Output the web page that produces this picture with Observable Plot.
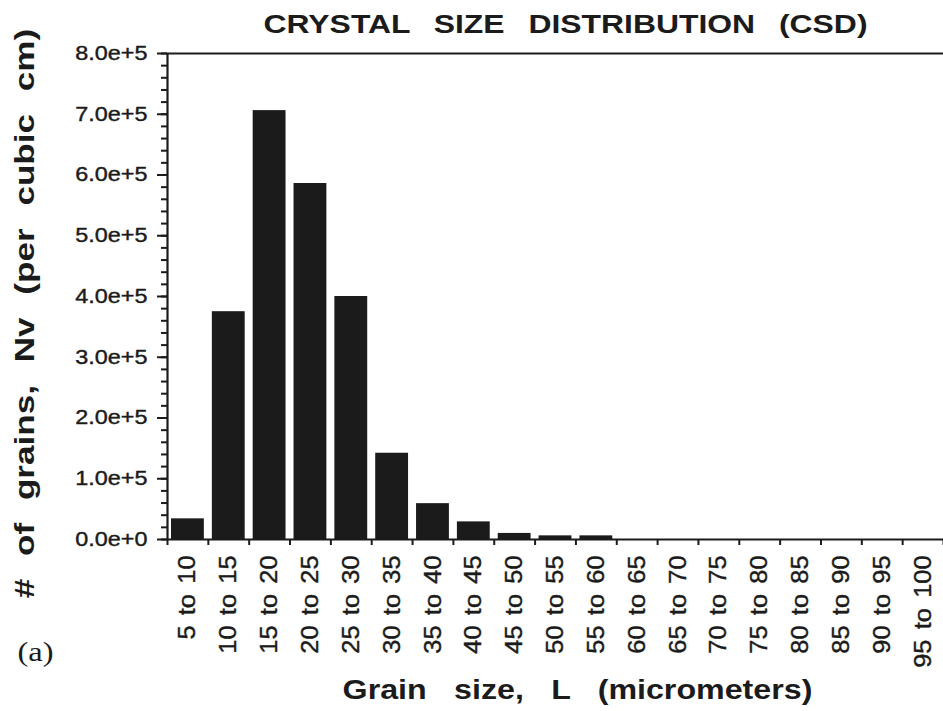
<!DOCTYPE html>
<html>
<head>
<meta charset="utf-8">
<script src="https://cdn.jsdelivr.net/npm/d3@7"></script>
<script src="https://cdn.jsdelivr.net/npm/@observablehq/plot@0.6"></script>
<style>
  html, body { margin: 0; padding: 0; background: #fff; }
  #chart svg { display: block; overflow: visible; }
</style>
</head>
<body>
<div id="chart"></div>
<script>
// Size classes (micrometers) and number of grains per cubic cm in each class
const binLabels = ["5 to 10", "10 to 15", "15 to 20", "20 to 25", "25 to 30", "30 to 35",
  "35 to 40", "40 to 45", "45 to 50", "50 to 55", "55 to 60", "60 to 65", "65 to 70",
  "70 to 75", "75 to 80", "80 to 85", "85 to 90", "90 to 95", "95 to 100"];
const binStart = [5, 10, 15, 20, 25, 30, 35, 40, 45, 50, 55, 60, 65, 70, 75, 80, 85, 90, 95];
const binEnd = [10, 15, 20, 25, 30, 35, 40, 45, 50, 55, 60, 65, 70, 75, 80, 85, 90, 95, 100];
const grainCounts = [3.4e4, 3.75e5, 7.06e5, 5.86e5, 4.0e5, 1.42e5, 5.9e4, 2.9e4, 1.0e4,
  6e3, 6e3, 0, 0, 0, 0, 0, 0, 0, 0];

const yMajorTicks = [0, 1e5, 2e5, 3e5, 4e5, 5e5, 6e5, 7e5, 8e5];
const yMinorTicks = d3.range(0, 8e5 + 1, 2e4);

const titleText = "CRYSTAL SIZE DISTRIBUTION (CSD)";
const yTitle = "# of grains, Nv (per cubic cm)";
const xTitle = "Grain size, L (micrometers)";
const panelTag = "(a)";

const rows = binLabels.map((label, i) => ({
  label, lo: binStart[i], hi: binEnd[i], value: grainCounts[i], mid: (binStart[i] + binEnd[i]) / 2
}));
const labelAt = new Map(rows.map(d => [d.mid, d.label]));
const yFormat = d3.format(".1e");

const ink = "#1b1b1b";

const chart = Plot.plot({
  width: 943,
  height: 711,
  marginLeft: 167,
  marginRight: 0,
  marginTop: 53,
  marginBottom: 172,
  style: { fontFamily: "'Liberation Sans', Arial, Helvetica, sans-serif", color: ink, background: "#fff" },
  x: { domain: [5, 100], label: null },
  y: { domain: [0, 8e5], label: null },
  marks: [
    Plot.rectY(rows, { x1: "lo", x2: "hi", y: "value", insetLeft: 4, insetRight: 4, fill: ink }),
    // frame: left axis line, top and bottom lines
    Plot.ruleY([0, 8e5], { stroke: ink, strokeWidth: 2.2 }),
    Plot.ruleX([5], { stroke: ink, strokeWidth: 2.2 }),
    // y axis: minor and major ticks
    Plot.axisY({ ticks: yMinorTicks, tickSize: 6, strokeWidth: 2, tickFormat: () => "", label: null }),
    Plot.axisY({ ticks: yMajorTicks, tickSize: 10, tickPadding: 10, strokeWidth: 2,
      tickFormat: yFormat, fontSize: 19.5, label: null }),
    // x axis: ticks on class boundaries, rotated class labels at class centres
    Plot.axisX({ ticks: [...binStart, 100], tickSize: 6, strokeWidth: 2, tickFormat: () => "", label: null }),
    Plot.axisX({ ticks: rows.map(d => d.mid), tickSize: 0, tickPadding: 16, tickRotate: -90,
      tickFormat: d => labelAt.get(d), fontSize: 23.5, label: null }),
    // titles
    Plot.text([titleText], { text: d => d, frameAnchor: "top", textAnchor: "middle", dx: 10, dy: -39,
      fontSize: 25.5, fontWeight: "bold", fill: ink }),
    Plot.text([yTitle], { text: d => d, frameAnchor: "left", textAnchor: "middle", dx: -142, dy: 17, rotate: -90,
      fontSize: 27, fontWeight: "bold", fill: ink }),
    Plot.text([xTitle], { text: d => d, frameAnchor: "bottom", textAnchor: "middle", dx: 22, dy: 159,
      fontSize: 28, fontWeight: "bold", fill: ink }),
    Plot.text([panelTag], { text: d => d, frameAnchor: "bottom-left", textAnchor: "middle", dx: -132, dy: 121,
      fontSize: 27, fontFamily: "'Liberation Serif', 'Times New Roman', serif", fill: ink })
  ]
});

document.getElementById("chart").appendChild(chart);

// The lettering of this figure is wide and loosely spaced: widen each text along its own direction.
const xLabelSet = new Set(binLabels);
function widen(el, sx, wordSpacing, weight) {
  if (wordSpacing) el.style.wordSpacing = wordSpacing + "px";
  if (weight) {
    el.setAttribute("stroke", ink);
    el.setAttribute("stroke-width", weight);
  }
  const len = el.getComputedTextLength();
  if (len > 0) {
    el.setAttribute("textLength", (len * sx).toFixed(1));
    el.setAttribute("lengthAdjust", "spacingAndGlyphs");
  }
}
chart.querySelectorAll("text").forEach(el => {
  const s = el.textContent;
  if (s === titleText) widen(el, 1.25, 12, 0);
  else if (s === yTitle) widen(el, 1.3, 10, 0);
  else if (s === xTitle) widen(el, 1.15, 16, 0);
  else if (s === panelTag) widen(el, 1.2, 0, 0);
  else if (xLabelSet.has(s)) widen(el, 1.08, 3, 0.4);
  else if (/e[+-]/.test(s)) widen(el, 1.2, 0, 0.4);
});
</script>
</body>
</html>
